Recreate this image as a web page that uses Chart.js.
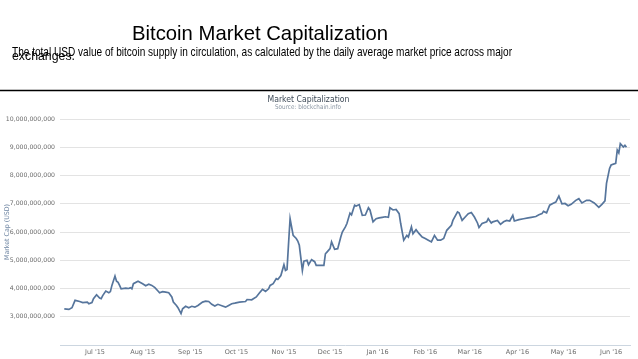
<!DOCTYPE html>
<html>
<head>
<meta charset="utf-8">
<script src="https://cdn.jsdelivr.net/npm/chart.js@4/dist/chart.umd.min.js"></script>
<style>
  html, body { margin: 0; padding: 0; background: #fff; }
  #wrap { width: 638px; height: 359px; position: relative; }
</style>
</head>
<body>
<div id="wrap"><canvas id="capChart" width="638" height="359"></canvas></div>
<script>
// daily market cap samples (USD)
const dates = [
  '2015-06-11','2015-06-14','2015-06-16','2015-06-18','2015-06-21','2015-06-23','2015-06-26','2015-06-27','2015-06-29','2015-06-30',
  '2015-07-02','2015-07-04','2015-07-05','2015-07-06','2015-07-08','2015-07-10','2015-07-11','2015-07-12','2015-07-14','2015-07-15',
  '2015-07-16','2015-07-17','2015-07-18','2015-07-21','2015-07-23','2015-07-24','2015-07-25','2015-07-26','2015-07-29','2015-08-01',
  '2015-08-03','2015-08-05','2015-08-07','2015-08-09','2015-08-11','2015-08-12','2015-08-14','2015-08-16','2015-08-18','2015-08-20',
  '2015-08-21','2015-08-23','2015-08-24','2015-08-26','2015-08-27','2015-08-29','2015-08-31','2015-09-02','2015-09-04','2015-09-06',
  '2015-09-09','2015-09-11','2015-09-13','2015-09-15','2015-09-17','2015-09-19','2015-09-22','2015-09-24','2015-09-26','2015-09-28',
  '2015-09-30','2015-10-03','2015-10-07','2015-10-08','2015-10-11','2015-10-14','2015-10-16','2015-10-18','2015-10-20','2015-10-22',
  '2015-10-23','2015-10-25','2015-10-27','2015-10-28','2015-10-30','2015-11-01','2015-11-02','2015-11-03','2015-11-04','2015-11-05',
  '2015-11-07','2015-11-09','2015-11-10','2015-11-11','2015-11-13','2015-11-14','2015-11-16','2015-11-17','2015-11-19','2015-11-21',
  '2015-11-22','2015-11-24','2015-11-27','2015-11-28','2015-11-29','2015-12-01','2015-12-02','2015-12-04','2015-12-06','2015-12-08',
  '2015-12-09','2015-12-11','2015-12-12','2015-12-14','2015-12-15','2015-12-17','2015-12-18','2015-12-20','2015-12-22','2015-12-24',
  '2015-12-26','2015-12-27','2015-12-29','2015-12-31','2016-01-02','2016-01-04','2016-01-06','2016-01-08','2016-01-09','2016-01-11',
  '2016-01-13','2016-01-15','2016-01-16','2016-01-18','2016-01-20','2016-01-21','2016-01-23','2016-01-24','2016-01-26','2016-01-28',
  '2016-01-30','2016-02-01','2016-02-03','2016-02-05','2016-02-07','2016-02-09','2016-02-11','2016-02-13','2016-02-15','2016-02-18',
  '2016-02-19','2016-02-22','2016-02-23','2016-02-25','2016-02-27','2016-02-29','2016-03-02','2016-03-04','2016-03-06','2016-03-07',
  '2016-03-09','2016-03-12','2016-03-13','2016-03-15','2016-03-16','2016-03-19','2016-03-21','2016-03-23','2016-03-25','2016-03-27',
  '2016-03-29','2016-03-30','2016-04-02','2016-04-05','2016-04-08','2016-04-10','2016-04-13','2016-04-15','2016-04-17','2016-04-18',
  '2016-04-20','2016-04-22','2016-04-24','2016-04-26','2016-04-28','2016-04-30','2016-05-02','2016-05-04','2016-05-06','2016-05-09',
  '2016-05-11','2016-05-13','2016-05-16','2016-05-18','2016-05-21','2016-05-24','2016-05-26','2016-05-28','2016-05-29','2016-05-31',
  '2016-06-01','2016-06-04','2016-06-05','2016-06-06','2016-06-07','2016-06-09','2016-06-10','2016-06-11'
];
// billions of USD
const capBillions = [
  3.28,3.26,3.32,3.58,3.54,3.50,3.52,3.46,3.50,3.64,
  3.78,3.66,3.64,3.75,3.91,3.85,3.89,4.11,4.44,4.26,
  4.22,4.11,3.99,4.01,4.00,4.03,3.99,4.17,4.26,4.17,
  4.10,4.15,4.11,4.03,3.91,3.85,3.89,3.87,3.85,3.70,
  3.52,3.40,3.32,3.11,3.28,3.37,3.32,3.37,3.34,3.40,
  3.52,3.55,3.54,3.44,3.38,3.44,3.38,3.34,3.40,3.46,
  3.48,3.52,3.54,3.61,3.60,3.70,3.84,3.97,3.90,3.99,
  4.11,4.17,4.35,4.32,4.46,4.84,4.64,4.67,5.59,6.47,
  5.88,5.77,5.68,5.53,4.64,4.97,5.00,4.84,5.02,4.95,
  4.82,4.82,4.82,5.23,5.29,5.41,5.65,5.39,5.41,5.82,
  6.00,6.18,6.30,6.67,6.61,6.95,6.92,6.97,6.59,6.60,
  6.86,6.78,6.36,6.47,6.50,6.52,6.54,6.52,6.86,6.78,
  6.80,6.65,6.30,5.71,5.88,5.82,6.18,5.94,6.08,5.94,
  5.82,5.77,5.71,5.65,5.88,5.71,5.71,5.77,6.06,6.24,
  6.41,6.71,6.68,6.41,6.53,6.65,6.69,6.53,6.32,6.16,
  6.30,6.36,6.47,6.32,6.36,6.41,6.27,6.36,6.41,6.39,
  6.59,6.39,6.44,6.47,6.50,6.52,6.55,6.61,6.65,6.73,
  6.68,6.95,7.01,7.06,7.27,7.00,7.01,6.93,6.98,7.12,
  7.18,7.03,7.12,7.12,7.03,6.87,6.98,7.10,7.72,8.25,
  8.37,8.43,8.90,8.80,9.13,9.01,9.07,9.00
];
const monthTicks = ['2015-07-01','2015-08-01','2015-09-01','2015-10-01','2015-11-01','2015-12-01',
                    '2016-01-01','2016-02-01','2016-03-01','2016-04-01','2016-05-01','2016-06-01'];
const monthNames = ['Jan','Feb','Mar','Apr','May','Jun','Jul','Aug','Sep','Oct','Nov','Dec'];
const yTicks = [3e9, 4e9, 5e9, 6e9, 7e9, 8e9, 9e9, 10e9];

const DAY = 86400000;
const jul1 = Date.parse('2015-07-01');
const points = dates.map((d, i) => ({ x: Date.parse(d), y: capBillions[i] * 1e9 }));

function fmtThousands(v) {
  return Math.round(v).toString().replace(/\B(?=(\d{3})+(?!\d))/g, ',');
}

// slide text + embedded chart header
const slideText = {
  id: 'slideText',
  beforeDraw(chart) {
    const ctx = chart.ctx;
    ctx.save();
    ctx.fillStyle = '#fff';
    ctx.fillRect(0, 0, chart.width, chart.height);
    ctx.restore();
  },
  afterDraw(chart) {
    const ctx = chart.ctx;
    ctx.save();
    ctx.fillStyle = '#000';
    ctx.textBaseline = 'alphabetic';
    ctx.textAlign = 'center';
    ctx.font = '21px "Liberation Sans", Arial, sans-serif';
    ctx.fillText('Bitcoin Market Capitalization', 260, 40, 256);
    ctx.textAlign = 'left';
    ctx.font = '13px "Liberation Sans", Arial, sans-serif';
    ctx.fillText('The total USD value of bitcoin supply in circulation, as calculated by the daily average market price across major', 12, 56, 500);
    ctx.fillText('exchanges.', 12, 60, 63);

    ctx.strokeStyle = '#000';
    ctx.lineWidth = 1.5;
    ctx.beginPath();
    ctx.moveTo(0, 90.5);
    ctx.lineTo(638, 90.5);
    ctx.stroke();

    ctx.textAlign = 'center';
    ctx.textBaseline = 'middle';
    ctx.fillStyle = '#3e4a57';
    ctx.font = '8.5px "DejaVu Sans", sans-serif';
    ctx.fillText('Market Capitalization', 308.5, 99.5, 82);
    ctx.fillStyle = '#8a96a3';
    ctx.font = '6.5px "DejaVu Sans", sans-serif';
    ctx.fillText('Source: blockchain.info', 308, 107, 66);

    ctx.translate(7, 232);
    ctx.rotate(-Math.PI / 2);
    ctx.fillStyle = '#6f86a3';
    ctx.font = '6.5px "DejaVu Sans", sans-serif';
    ctx.fillText('Market Cap (USD)', 0, 0, 56);
    ctx.restore();
  }
};

new Chart(document.getElementById('capChart'), {
  type: 'line',
  data: {
    datasets: [{
      data: points,
      borderColor: '#56759c',
      borderWidth: 1.7,
      pointRadius: 0,
      tension: 0,
      fill: false
    }]
  },
  options: {
    responsive: false,
    animation: false,
    layout: { padding: { left: 0, right: 8, top: 119, bottom: 0 } },
    plugins: { legend: { display: false }, tooltip: { enabled: false } },
    scales: {
      x: {
        type: 'linear',
        min: jul1 - 22.8 * DAY,
        max: jul1 + 348.3 * DAY,
        afterBuildTicks(scale) {
          scale.ticks = monthTicks.map(m => ({ value: Date.parse(m) }));
        },
        afterFit(scale) { scale.height = 14; },
        grid: { display: false, drawTicks: false },
        border: { display: true, color: '#ccd6e0', width: 1 },
        ticks: {
          autoSkip: false,
          maxRotation: 0,
          padding: 3,
          color: '#6b6b6b',
          font: { family: 'DejaVu Sans', size: 6.5 },
          callback(v) {
            const d = new Date(v);
            return monthNames[d.getUTCMonth()] + " '" + String(d.getUTCFullYear()).slice(2);
          }
        }
      },
      y: {
        min: 2e9,
        max: 10e9,
        afterBuildTicks(scale) {
          scale.ticks = [2e9].concat(yTicks).map(v => ({ value: v }));
        },
        afterFit(scale) { scale.width = 60; },
        grid: {
          drawTicks: false,
          color: ctx => ctx.tick && ctx.tick.value === 2e9 ? 'rgba(0,0,0,0)' : '#e3e3e3',
          lineWidth: 1
        },
        border: { display: false },
        ticks: {
          padding: 5,
          color: '#6b6b6b',
          font: { family: 'DejaVu Sans', size: 6.2 },
          callback(v) { return v === 2e9 ? '' : fmtThousands(v); }
        }
      }
    }
  },
  plugins: [slideText]
});
</script>
</body>
</html>
